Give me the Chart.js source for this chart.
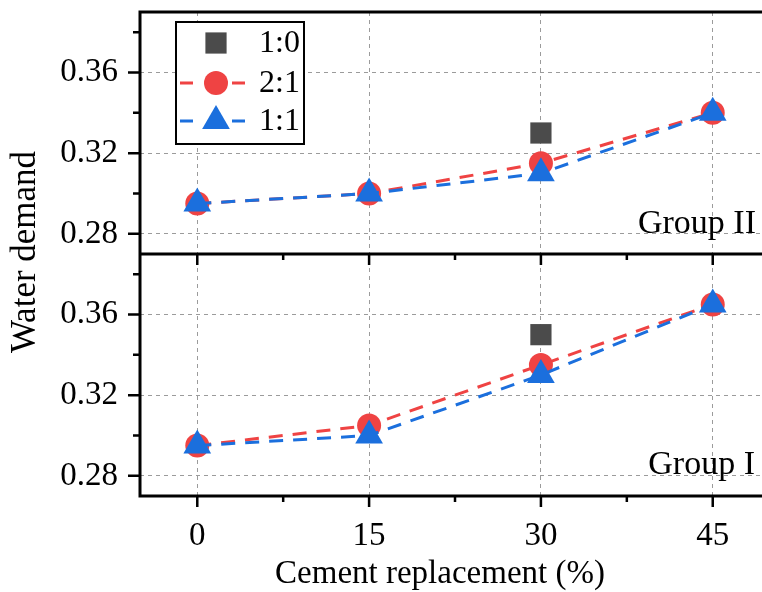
<!DOCTYPE html>
<html>
<head>
<meta charset="utf-8">
<script src="https://cdn.jsdelivr.net/npm/chart.js@4.4.0/dist/chart.umd.min.js"></script>
<style>
  html, body { margin: 0; padding: 0; background: #fff; }
  canvas { display: block; }
</style>
</head>
<body>
<canvas id="waterChart" width="762" height="592"></canvas>
<script>
// cement replacement levels (%) on the x axis
const replacement = [0, 15, 30, 45];
const xTicks = [0, 15, 30, 45];
const xMinorTicks = [7.5, 22.5, 37.5];
const yTicks = [0.28, 0.32, 0.36];
const yMinorTicks = [0.30, 0.34, 0.38];

// water demand, Group II (upper panel)
const groupII_1to0 = [null, null, 0.330, null];
const groupII_2to1 = [0.295, 0.300, 0.315, 0.340];
const groupII_1to1 = [0.295, 0.300, 0.310, 0.340];

// water demand, Group I (lower panel)
const groupI_1to0 = [null, null, 0.350, null];
const groupI_2to1 = [0.295, 0.305, 0.335, 0.365];
const groupI_1to1 = [0.295, 0.300, 0.330, 0.365];

const FONT = '"Liberation Serif", "Times New Roman", serif';
const RED = '#ef4343';
const BLUE = '#1b6fdd';
const GREY = '#4b4b4b';

const styles = {
  '1:0': { color: GREY, pointStyle: 'rect', radius: 15, line: false },
  '2:1': { color: RED, pointStyle: 'circle', radius: 12, line: true },
  '1:1': { color: BLUE, pointStyle: 'triangle', radius: 16, line: true }
};

function series(label, values, axis, order) {
  const s = styles[label];
  return {
    label,
    yAxisID: axis,
    order,
    data: replacement.map((x, i) => ({ x, y: values[i] })),
    showLine: s.line,
    borderColor: s.color,
    backgroundColor: s.color,
    borderWidth: 3,
    borderDash: [14, 10],
    pointStyle: s.pointStyle,
    pointRadius: s.radius,
    pointBorderWidth: 0,
    pointBackgroundColor: s.color,
    pointHoverRadius: s.radius
  };
}

const datasets = [
  series('1:1', groupII_1to1, 'yTop', 0),
  series('2:1', groupII_2to1, 'yTop', 1),
  series('1:0', groupII_1to0, 'yTop', 2),
  series('1:1', groupI_1to1, 'yBot', 0),
  series('2:1', groupI_2to1, 'yBot', 1),
  series('1:0', groupI_1to0, 'yBot', 2)
];

// keep tick labels from pushing the plot area inward
function noPadding(s) {
  s.paddingTop = 0;
  s.paddingBottom = 0;
  s.paddingLeft = 0;
  s.paddingRight = 0;
}

function yAxis(weight) {
  return {
    type: 'linear',
    position: 'left',
    stack: 'demand',
    stackWeight: 1,
    weight,
    min: 0.27,
    max: 0.39,
    afterBuildTicks: s => { s.ticks = yTicks.map(v => ({ value: v })); },
    afterFit: s => { s.width = 140; noPadding(s); },
    grid: { color: '#9b9b9b', lineWidth: 1, drawTicks: false },
    border: { display: false, dash: [4, 4] },
    ticks: {
      padding: 22,
      color: '#000',
      font: { family: FONT, size: 33 },
      callback: v => v.toFixed(2)
    }
  };
}

// frame lines, tick marks, axis/panel labels and the boxed legend
const frame = {
  id: 'frame',
  afterDraw(chart) {
    const { ctx, chartArea: a, scales } = chart;
    const x = scales.x, top = scales.yTop, bot = scales.yBot;
    const mid = top.bottom;
    ctx.save();
    ctx.strokeStyle = '#000';
    ctx.lineCap = 'butt';

    // tick marks
    ctx.lineWidth = 2.5;
    ctx.beginPath();
    [top, bot].forEach(s => {
      yTicks.forEach(v => { const p = s.getPixelForValue(v); ctx.moveTo(a.left - 12, p); ctx.lineTo(a.left, p); });
      yMinorTicks.forEach(v => { const p = s.getPixelForValue(v); ctx.moveTo(a.left - 7, p); ctx.lineTo(a.left, p); });
    });
    [mid, a.bottom].forEach(yb => {
      xTicks.forEach(v => { const p = x.getPixelForValue(v); ctx.moveTo(p, yb); ctx.lineTo(p, yb + 11); });
      xMinorTicks.forEach(v => { const p = x.getPixelForValue(v); ctx.moveTo(p, yb); ctx.lineTo(p, yb + 6); });
    });
    ctx.stroke();

    // panel frame
    ctx.lineWidth = 3;
    ctx.beginPath();
    ctx.moveTo(a.right + 2, a.top); ctx.lineTo(a.left, a.top); ctx.lineTo(a.left, a.bottom); ctx.lineTo(a.right + 2, a.bottom);
    ctx.moveTo(a.left, mid); ctx.lineTo(a.right + 2, mid);
    ctx.stroke();

    // texts
    ctx.fillStyle = '#000';
    ctx.font = '34px ' + FONT;
    ctx.textAlign = 'right';
    ctx.textBaseline = 'alphabetic';
    ctx.fillText('Group II', 756, 233);
    ctx.fillText('Group I', 755, 474);

    ctx.font = '33px ' + FONT;
    ctx.textAlign = 'center';
    ctx.fillText('Cement replacement (%)', 440, 583);

    ctx.save();
    ctx.translate(26, 252);
    ctx.rotate(-Math.PI / 2);
    ctx.textAlign = 'center';
    ctx.textBaseline = 'middle';
    ctx.font = '35px ' + FONT;
    ctx.fillText('Water demand', 0, 0);
    ctx.restore();

    // legend
    const lx = 176, ly = 22, lw = 128, lh = 122;
    ctx.fillStyle = '#fff';
    ctx.fillRect(lx, ly, lw, lh);
    ctx.lineWidth = 2;
    ctx.strokeRect(lx, ly, lw, lh);
    const rows = [['1:0', 43], ['2:1', 83], ['1:1', 121]];
    rows.forEach(([label, ry]) => {
      const s = styles[label];
      if (s.line) {
        ctx.strokeStyle = s.color;
        ctx.lineWidth = 3;
        ctx.beginPath();
        ctx.moveTo(180, ry); ctx.lineTo(193, ry);
        ctx.moveTo(232, ry); ctx.lineTo(245, ry);
        ctx.stroke();
      }
      ctx.fillStyle = s.color;
      Chart.helpers.drawPoint(ctx, { pointStyle: s.pointStyle, radius: s.radius, borderWidth: 0 }, 216, ry);
      ctx.fillStyle = '#000';
      ctx.font = '32px ' + FONT;
      ctx.textAlign = 'left';
      ctx.textBaseline = 'middle';
      ctx.fillText(label, 259, ry + 1);
    });
    ctx.restore();
  }
};

new Chart(document.getElementById('waterChart'), {
  type: 'scatter',
  data: { datasets },
  options: {
    responsive: false,
    animation: false,
    devicePixelRatio: 1,
    layout: { autoPadding: false, padding: { top: 12, right: 0, bottom: 0, left: 0 } },
    plugins: { legend: { display: false }, tooltip: { enabled: false } },
    scales: {
      x: {
        type: 'linear',
        position: 'bottom',
        min: -5,
        max: 49.3,
        afterBuildTicks: s => { s.ticks = xTicks.map(v => ({ value: v })); },
        afterFit: s => { s.height = 96; noPadding(s); },
        grid: { color: '#9b9b9b', lineWidth: 1, drawTicks: false },
        border: { display: false, dash: [4, 4] },
        ticks: { padding: 21, color: '#000', font: { family: FONT, size: 33 } }
      },
      yTop: yAxis(1),
      yBot: yAxis(0)
    }
  },
  plugins: [frame]
});
</script>
</body>
</html>
